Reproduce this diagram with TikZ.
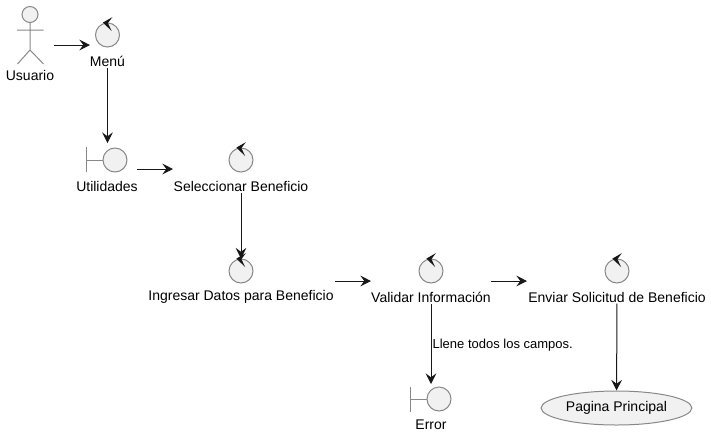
\documentclass[tikz,border=0pt]{standalone}
\usepackage{fontspec}
\setmainfont{Liberation Sans}
\usetikzlibrary{calc,arrows.meta,shapes.geometric}
\definecolor{linegray}{HTML}{888888}
\definecolor{shapefill}{HTML}{F1F1F1}
\definecolor{arrowdark}{HTML}{181818}
\tikzset{
  elem/.style={circle,draw=linegray,fill=shapefill,line width=0.75pt,minimum size=18pt,inner sep=0pt},
  lbl/.style={font=\fontsize{10.5}{12}\selectfont,inner sep=1pt,text=black},
  flow/.style={draw=arrowdark,line width=0.75pt,-{Stealth[length=8pt,width=8pt,inset=3pt]}},
  stroke/.style={draw=linegray,line width=0.75pt}
}
\def\ctrlnode{\node[elem]}
\def\lblnode{\node[lbl]}
\begin{document}
\begin{tikzpicture}[x=0.75pt,y=-0.75pt]
\useasboundingbox (0,0) rectangle (711,437);
% actor
\node[elem,minimum size=12pt] (head) at (30,14.5) {};
\coordinate (hip) at (30,50);
\coordinate (armL) at (17,30);
\coordinate (armR) at (43.5,30);
\coordinate (legL) at (17.5,64);
\coordinate (legR) at (43.5,64);
\draw[stroke] (head) -- (hip) (armL) -- (armR) (legL) -- (hip) -- (legR);
\lblnode (lbl_usuario) at (30,75) {Usuario};
% controls
\ctrlnode (menu) at (107.5,35) {};
\ctrlnode (selec) at (241,160) {};
\ctrlnode (ingresar) at (241,271) {};
\ctrlnode (validar) at (431,271) {};
\ctrlnode (enviar) at (617,271) {};
\foreach \n in {menu,selec,ingresar,validar,enviar}
  \filldraw[arrowdark,line width=0.75pt,line join=miter] ($(\n)+(-3.8,-12.3)$) -- ($(\n)+(3,-16.2)$) -- ($(\n)+(-0.2,-12)$) -- ($(\n)+(2.5,-6.3)$) -- cycle;
\lblnode (lbl_menu) at (107.5,61) {Menú};
\lblnode (lbl_selec) at (241,186) {Seleccionar Beneficio};
\lblnode (lbl_ingresar) at (241,297) {Ingresar Datos para Beneficio};
\lblnode (lbl_validar) at (431,297) {Validar Información};
\lblnode (lbl_enviar) at (617,297) {Enviar Solicitud de Beneficio};
% boundaries
\ctrlnode (util) at (115,160) {};
\coordinate (util_t) at (86.5,147);
\coordinate (util_b) at (86.5,172);
\coordinate (util_m) at (86.5,160);
\draw[stroke] (util_t) -- (util_b) (util_m) -- (util);
\lblnode (lbl_util) at (107,186) {Utilidades};
\ctrlnode (err) at (439,399) {};
\coordinate (err_t) at (410.5,387);
\coordinate (err_b) at (410.5,412);
\coordinate (err_m) at (410.5,399);
\draw[stroke] (err_t) -- (err_b) (err_m) -- (err);
\lblnode (lbl_err) at (431,425) {Error};
% use case
\node[ellipse,draw=linegray,fill=shapefill,line width=0.75pt,minimum width=113pt,minimum height=25.5pt,inner sep=0pt,font=\fontsize{10.5}{12}\selectfont] (pagina) at (616.5,408) {Pagina Principal};
% free ends
\coordinate (a1) at (54,45);
\coordinate (a2) at (90,45);
\coordinate (b1) at (137,169);
\coordinate (b2) at (173,169);
\coordinate (c1) at (335,281);
\coordinate (c2) at (371,281);
\coordinate (d1) at (491,281);
\coordinate (d2) at (527,281);
\coordinate (util_in) at (107.5,143);
\coordinate (err_in) at (431,384);
\draw[flow] (a1) -- (a2);
\draw[flow] (lbl_menu) -- (util_in);
\draw[flow] (b1) -- (b2);
\draw[flow] (lbl_selec) -- (ingresar);
\draw[flow] (c1) -- (c2);
\draw[flow] (d1) -- (d2);
\draw[flow] (lbl_validar) -- (err_in);
\draw[flow] (lbl_enviar) -- (pagina);
\node[lbl,anchor=west,font=\fontsize{9.75}{12}\selectfont] (lbl_campos) at (431,345) {Llene todos los campos.};
\end{tikzpicture}
\end{document}
